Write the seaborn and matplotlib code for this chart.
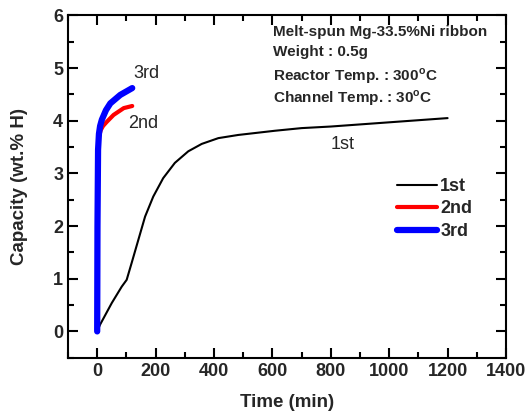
import seaborn as sns
import matplotlib.pyplot as plt
import pandas as pd
from matplotlib.ticker import MultipleLocator

# valeurs (capacité en wt.% H)
time_1st = [0, 10, 50, 84, 101, 118, 141, 164, 192, 226, 266, 312, 358, 415, 483, 609,
            700, 800, 900, 1000, 1100, 1200]
cap_1st = [0.0, 0.13, 0.54, 0.85, 0.98, 1.30, 1.74, 2.18, 2.56, 2.91, 3.20, 3.42, 3.56, 3.67,
           3.73, 3.81, 3.86, 3.89, 3.93, 3.97, 4.01, 4.05]

time_2nd = [0, 1, 3, 6, 12, 20, 33, 56, 91, 120]
cap_2nd = [0.0, 2.0, 3.4, 3.7, 3.82, 3.9, 3.98, 4.11, 4.24, 4.28]

time_3rd = [0, 1, 3, 6, 10, 16, 30, 45, 79, 120]
cap_3rd = [0.0, 2.0, 3.45, 3.75, 3.9, 4.02, 4.2, 4.33, 4.49, 4.62]

info_lines = ["Melt-spun Mg-33.5%Ni ribbon", "Weight : 0.5g",
              "Reactor Temp. : 300$^{\\mathrm{o}}$C", "Channel Temp. : 30$^{\\mathrm{o}}$C"]
info_y = [5.69, 5.31, 4.85, 4.42]

sns.set_style("ticks")
plt.rcParams["font.family"] = ["Liberation Sans", "DejaVu Sans"]
plt.rcParams["mathtext.fontset"] = "custom"
plt.rcParams["mathtext.rm"] = "Liberation Sans:bold"
plt.rcParams["axes.axisbelow"] = False

fig = plt.figure(figsize=(5.25, 4.16), dpi=100)
ax = fig.add_axes([0.1295, 0.140, 0.8343, 0.823])

df1 = pd.DataFrame({"t": time_1st, "c": cap_1st})
df2 = pd.DataFrame({"t": time_2nd, "c": cap_2nd})
df3 = pd.DataFrame({"t": time_3rd, "c": cap_3rd})

sns.lineplot(data=df1, x="t", y="c", ax=ax, color="black", lw=1.5, sort=False, label="1st")
sns.lineplot(data=df2, x="t", y="c", ax=ax, color="red", lw=3, sort=False, label="2nd",
             solid_capstyle="round")
sns.lineplot(data=df3, x="t", y="c", ax=ax, color="blue", lw=4.5, sort=False, label="3rd",
             solid_capstyle="round")

ax.set_xlim(-100, 1400)
ax.set_ylim(-0.5, 6)
ax.xaxis.set_major_locator(MultipleLocator(200))
ax.xaxis.set_minor_locator(MultipleLocator(100))
ax.yaxis.set_major_locator(MultipleLocator(1))
ax.yaxis.set_minor_locator(MultipleLocator(0.5))
for sp in ax.spines.values():
    sp.set_linewidth(1.5)
    sp.set_color("black")

ax.set_xlabel("Time (min)", fontsize=13.5, fontweight="bold", labelpad=10)
ax.set_ylabel("Capacity (wt.% H)", fontsize=13.5, fontweight="bold", labelpad=18)

# étiquettes des cycles
ax.text(124, 4.9, "3rd", fontsize=13, va="center")
ax.text(107, 3.94, "2nd", fontsize=13, va="center")
ax.text(800, 3.54, "1st", fontsize=13, va="center")

for line, y in zip(info_lines, info_y):
    ax.text(602, y, line, fontsize=11, fontweight="bold", va="center")

ax.legend(loc="upper left", bbox_to_anchor=(0.751, 0.525), frameon=False,
          prop={"weight": "bold", "size": 13}, handlelength=2.2, handletextpad=0.2,
          labelspacing=0.3, borderpad=0, borderaxespad=0)

# ticks vers l'intérieur sur les 4 côtés
ax.set_axisbelow(False)
ax.tick_params(which="both", direction="in", top=True, right=True, bottom=True, left=True,
               color="black", width=1.5)
ax.tick_params(which="major", length=7, labelsize=13)
ax.tick_params(which="minor", length=4)
for lab in ax.get_xticklabels() + ax.get_yticklabels():
    lab.set_fontweight("bold")

plt.savefig("out.png", dpi=100)
